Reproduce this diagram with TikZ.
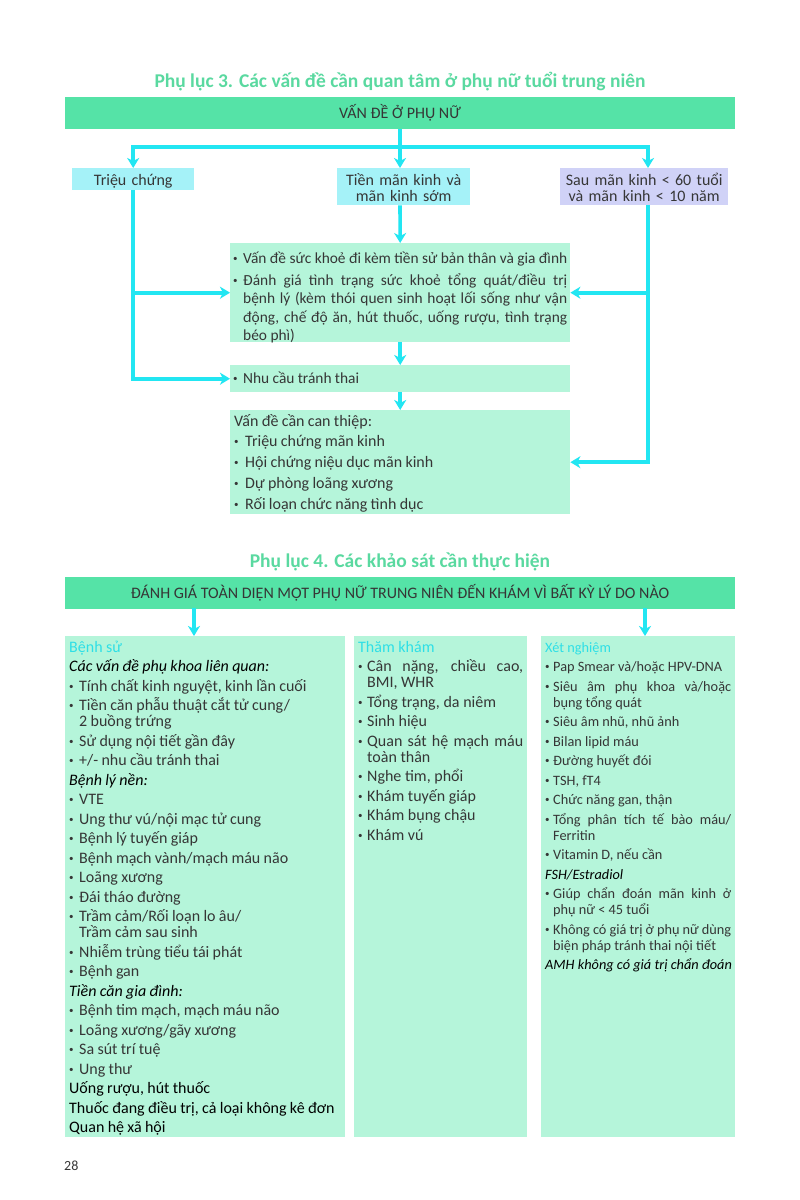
\documentclass[tikz,border=0pt]{standalone}
\usepackage{fontspec}
\setmainfont{Carlito}
\usetikzlibrary{arrows.meta}
\definecolor{ttl}{HTML}{5AD9A0}
\definecolor{barc}{HTML}{55E3A7}
\definecolor{mint}{HTML}{B5F5DA}
\definecolor{cyb}{HTML}{A5F2F8}
\definecolor{lav}{HTML}{D0D2F7}
\definecolor{arr}{HTML}{22E6F2}
\definecolor{subc}{HTML}{2EDFE6}
\definecolor{txt}{HTML}{363636}
\newlength{\bulind}
\setlength{\bulind}{10pt}
\newcommand{\bul}{\makebox[\bulind][l]{\raisebox{0.12em}{\fontsize{9}{9}\selectfont •}}}
\newcommand{\fitm}[1]{\noindent\hangindent=\bulind\hangafter=1\bul{#1}}
\newcommand{\itm}[1]{\par\noindent\hangindent=\bulind\hangafter=1\bul{#1}}
\newcommand{\fhd}[1]{\noindent{#1}}
\newcommand{\hd}[1]{\par\noindent{#1}}
\begin{document}
\begin{tikzpicture}[x=1pt,y=-1pt,
  conn/.style={draw=arr, line width=3.6pt, -{Stealth[length=10pt,width=12pt,inset=3pt]}},
  ln/.style={draw=arr, line width=3.6pt},
  barbox/.style={fill=barc, minimum width=670pt, minimum height=32pt, inner sep=0pt, text height=11pt, text depth=0pt, font=\fontsize{16}{18}\selectfont, text=txt},
  ttlnode/.style={anchor=base, text=ttl, font=\fontsize{19.5}{22}\selectfont\bfseries, inner sep=0pt},
  sbox/.style={anchor=north west, inner sep=0pt, align=center, text=txt, font=\fontsize{16}{16}\selectfont},
  pan/.style={anchor=north west, inner xsep=4pt, inner ysep=0pt, fill=mint, text=txt},
]
\fill[white] (0,0) rectangle (800,1200);
\useasboundingbox (0,0) rectangle (800,1200);

% ---------- Phu luc 3 ----------
\node[ttlnode] (t1) at (400,87) {Phụ lục 3. Các vấn đề cần quan tâm ở phụ nữ tuổi trung niên};
\node[barbox] (bar1) at (400,113) {VẤN ĐỀ Ở PHỤ NỮ};

\node[sbox, fill=cyb, text width=122pt, text height=17pt, text depth=5pt] (tc) at (72,168) {Triệu chứng};
\node[sbox, fill=cyb, text width=133pt, text height=17pt, text depth=20pt] (tm) at (337,168) {Tiền mãn kinh và\\mãn kinh sớm};
\node[sbox, fill=lav, text width=168pt, text height=17pt, text depth=20pt] (sau) at (560,168) {Sau mãn kinh < 60 tuổi\\và mãn kinh < 10 năm};

\node[pan, inner xsep=3pt, text width=334pt, align=justify, text height=20pt, text depth=79pt] (b1) at (230,243)
{\fontsize{15.4}{18.5}\selectfont\setlength{\parskip}{3.5pt}\setlength{\parindent}{0pt}\setlength{\bulind}{10pt}%
\fitm{Vấn đề sức khoẻ đi kèm tiền sử bản thân và gia đình}%
\itm{Đánh giá tình trạng sức khoẻ tổng quát/điều trị\linebreak bệnh lý (kèm thói quen sinh hoạt lối sống như vận\linebreak động, chế độ ăn, hút thuốc, uống rượu, tình trạng\linebreak béo phì)}\par};

\node[pan, inner xsep=3pt, text width=334pt, align=left, text height=18pt, text depth=9pt] (b2) at (230,365)
{\fontsize{15.4}{18.5}\selectfont\setlength{\parindent}{0pt}\setlength{\bulind}{10pt}%
\fitm{Nhu cầu tránh thai}\par};

\node[pan, inner xsep=4pt, text width=332pt, align=left, text height=16pt, text depth=88pt] (b3) at (230,410)
{\fontsize{16}{20.7}\selectfont\setlength{\parskip}{0pt}\setlength{\parindent}{0pt}\setlength{\bulind}{11pt}%
\fhd{Vấn đề cần can thiệp:}%
\itm{Triệu chứng mãn kinh}%
\itm{Hội chứng niệu dục mãn kinh}%
\itm{Dự phòng loãng xương}%
\itm{Rối loạn chức năng tình dục}\par};

\coordinate (j1) at (400,147);
\coordinate (jL) at (133,147);
\coordinate (jR) at (648,147);
\draw[ln] (bar1.south) -- (j1);
\draw[conn] (j1) -| (tc.north);
\draw[conn] (j1) -| (jR |- sau.north);
\draw[conn] (j1) -- (j1 |- tm.north);
\draw[conn] (j1 |- tm.south) -- (b1.north);
\draw[conn] (b1.south) -- (b2.north);
\draw[conn] (b2.south) -- (b3.north);
\draw[conn] (tc.south) |- (b2.west);
\draw[conn] (tc.south |- b1.west) -- (b1.west);
\draw[conn] (jR |- sau.south) |- (b3.east);
\draw[conn] (jR |- b1.east) -- (b1.east);

% ---------- Phu luc 4 ----------
\node[ttlnode] (t2) at (400,567) {Phụ lục 4. Các khảo sát cần thực hiện};
\node[barbox] (bar2) at (400,592.5) {ĐÁNH GIÁ TOÀN DIỆN MỘT PHỤ NỮ TRUNG NIÊN ĐẾN KHÁM VÌ BẤT KỲ LÝ DO NÀO};

\node[pan, text width=272pt, align=left, text height=16pt, text depth=485pt] (c1) at (65,636)
{\fontsize{16}{16}\selectfont\setlength{\parskip}{3.5pt}\setlength{\parindent}{0pt}\setlength{\bulind}{10pt}%
\fhd{\color{subc}Bệnh sử}%
\hd{\color{black}\itshape Các vấn đề phụ khoa liên quan:}%
\itm{Tính chất kinh nguyệt, kinh lần cuối}%
\itm{Tiền căn phẫu thuật cắt tử cung/\newline 2 buồng trứng}%
\itm{Sử dụng nội tiết gần đây}%
\itm{+/- nhu cầu tránh thai}%
\hd{\color{black}\itshape Bệnh lý nền:}%
\itm{VTE}%
\itm{Ung thư vú/nội mạc tử cung}%
\itm{Bệnh lý tuyến giáp}%
\itm{Bệnh mạch vành/mạch máu não}%
\itm{Loãng xương}%
\itm{Đái tháo đường}%
\itm{Trầm cảm/Rối loạn lo âu/\newline Trầm cảm sau sinh}%
\itm{Nhiễm trùng tiểu tái phát}%
\itm{Bệnh gan}%
\hd{\color{black}\itshape Tiền căn gia đình:}%
\itm{Bệnh tim mạch, mạch máu não}%
\itm{Loãng xương/gãy xương}%
\itm{Sa sút trí tuệ}%
\itm{Ung thư}%
\hd{\color{black}Uống rượu, hút thuốc}%
\hd{\color{black}Thuốc đang điều trị, cả loại không kê đơn}%
\hd{\color{black}Quan hệ xã hội}\par};

\node[pan, text width=165pt, align=justify, text height=16pt, text depth=485pt] (c2) at (354,636)
{\fontsize{16}{16}\selectfont\setlength{\parskip}{3.5pt}\setlength{\parindent}{0pt}\setlength{\bulind}{9pt}%
\fhd{\color{subc}Thăm khám}%
\itm{Cân nặng, chiều cao,\linebreak BMI, WHR}%
\itm{Tổng trạng, da niêm}%
\itm{Sinh hiệu}%
\itm{Quan sát hệ mạch máu\linebreak toàn thân}%
\itm{Nghe tim, phổi}%
\itm{Khám tuyến giáp}%
\itm{Khám bụng chậu}%
\itm{Khám vú}\par};

\node[pan, text width=186pt, align=justify, text height=16pt, text depth=485pt] (c3) at (541,636)
{\fontsize{14.3}{16}\selectfont\setlength{\parskip}{3.5pt}\setlength{\parindent}{0pt}\setlength{\bulind}{8pt}%
\fhd{\color{subc}Xét nghiệm}%
\itm{Pap Smear và/hoặc HPV-DNA}%
\itm{Siêu âm phụ khoa và/hoặc\linebreak bụng tổng quát}%
\itm{Siêu âm nhũ, nhũ ảnh}%
\itm{Bilan lipid máu}%
\itm{Đường huyết đói}%
\itm{TSH, fT4}%
\itm{Chức năng gan, thận}%
\itm{Tổng phân tích tế bào máu/\linebreak Ferritin}%
\itm{Vitamin D, nếu cần}%
\hd{\color{black}\itshape FSH/Estradiol}%
\itm{Giúp chẩn đoán mãn kinh ở\linebreak phụ nữ < 45 tuổi}%
\itm{Không có giá trị ở phụ nữ dùng\linebreak biện pháp tránh thai nội tiết}%
\hd{\mbox{\color{black}\itshape AMH không có giá trị chẩn đoán}}\par};

\coordinate (a1) at (194,608);
\coordinate (a3) at (645,608);
\draw[conn] (a1) -- (a1 |- c1.north);
\draw[conn] (a3) -- (a3 |- c3.north);

\node[anchor=base west, inner sep=0pt, text=txt, font=\fontsize{14}{16}\selectfont] (pg) at (64,1170) {28};
\end{tikzpicture}
\end{document}
